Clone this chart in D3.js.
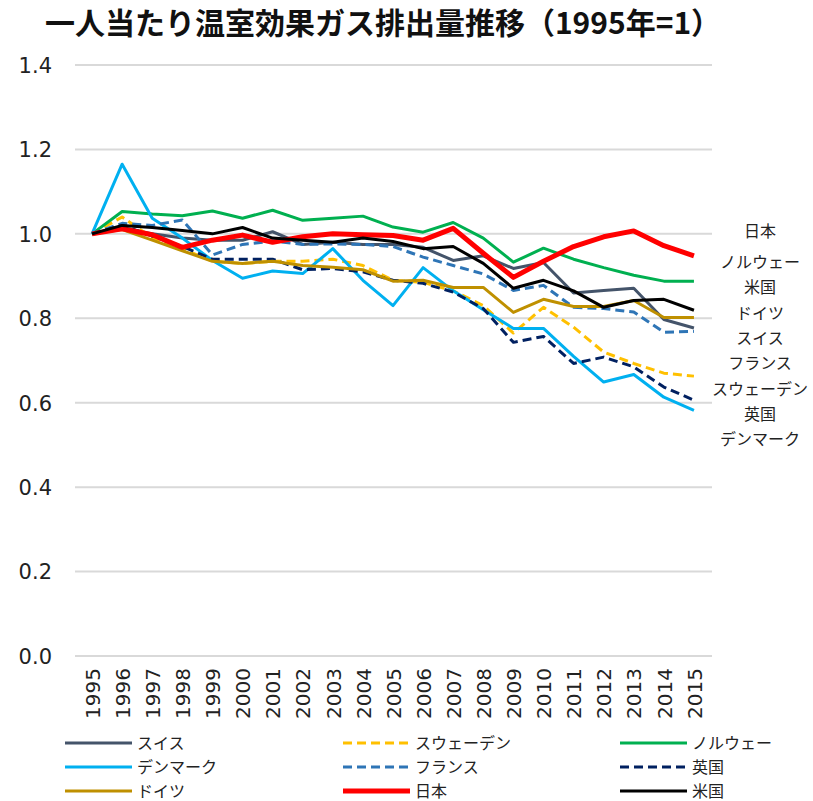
<!DOCTYPE html>
<html><head><meta charset="utf-8">
<script src="https://cdn.jsdelivr.net/npm/d3@7"></script>
<style>html,body{margin:0;padding:0;background:#fff;}</style>
</head><body>
<svg id="chart" width="813" height="801"></svg>
<script>
const title = "一人当たり温室効果ガス排出量推移（1995年=1）";
const years = [1995,1996,1997,1998,1999,2000,2001,2002,2003,2004,2005,2006,2007,2008,2009,2010,2011,2012,2013,2014,2015];
const yTicks = [0,0.2,0.4,0.6,0.8,1.0,1.2,1.4];

const swiss   = [1.0,1.015,1.0,0.99,0.985,0.985,1.005,0.975,0.98,0.975,0.975,0.968,0.937,0.948,0.918,0.932,0.86,0.866,0.871,0.797,0.777];
const sweden  = [1.0,1.04,0.99,0.965,0.935,0.93,0.935,0.935,0.94,0.925,0.89,0.885,0.865,0.83,0.765,0.826,0.779,0.72,0.693,0.67,0.663];
const norway  = [1.0,1.053,1.047,1.043,1.054,1.037,1.056,1.032,1.037,1.042,1.016,1.004,1.027,0.99,0.933,0.966,0.94,0.92,0.902,0.888,0.888];
const denmark = [1.0,1.165,1.037,0.99,0.937,0.895,0.912,0.906,0.965,0.89,0.83,0.92,0.865,0.82,0.776,0.776,0.71,0.649,0.667,0.613,0.582];
const france  = [1.0,1.025,1.02,1.033,0.95,0.975,0.983,0.975,0.976,0.975,0.97,0.945,0.925,0.905,0.866,0.878,0.826,0.823,0.815,0.767,0.769];
const uk      = [1.0,1.02,0.995,0.97,0.94,0.94,0.94,0.915,0.918,0.91,0.89,0.883,0.862,0.823,0.743,0.757,0.693,0.708,0.685,0.637,0.606];
const germany = [1.0,1.01,0.985,0.96,0.935,0.93,0.935,0.925,0.921,0.915,0.888,0.89,0.873,0.873,0.814,0.845,0.828,0.828,0.842,0.802,0.802];
const japan   = [1.0,1.012,0.998,0.968,0.985,0.997,0.98,0.993,1.0,0.998,0.996,0.985,1.013,0.954,0.897,0.935,0.97,0.993,1.007,0.972,0.948];
const us      = [1.0,1.02,1.015,1.008,1.0,1.015,0.99,0.985,0.98,0.99,0.982,0.965,0.97,0.93,0.871,0.89,0.865,0.826,0.842,0.845,0.819];

const seriesNames = ["スイス","スウェーデン","ノルウェー","デンマーク","フランス","英国","ドイツ","日本","米国"];
const seriesValues = [swiss,sweden,norway,denmark,france,uk,germany,japan,us];
const seriesColors = ["#44546A","#FFC000","#00B050","#00B0F0","#2E75B6","#002060","#BF9000","#FF0000","#000000"];
const seriesDashed = [false,true,false,false,true,true,false,false,false];
const seriesWidth  = [3,3,3,3,3,3,3,5,3];

const endLabels = ["日本","ノルウェー","米国","ドイツ","スイス","フランス","スウェーデン","英国","デンマーク"];

const svg = d3.select("#chart");
const jp = "'Noto Sans CJK JP', sans-serif";
const num = "'DejaVu Sans', sans-serif";

svg.append("text").attr("x",383).attr("y",34).attr("text-anchor","middle")
  .attr("font-family",jp).attr("font-weight","bold").attr("font-size",30).attr("fill","#111")
  .text(title);

const x = d3.scalePoint().domain(years).range([77,709]).padding(0.5);
const y = d3.scaleLinear().domain([0,1.4]).range([656,65]);

// gridlines
svg.append("g").selectAll("line").data(yTicks).join("line")
  .attr("x1",75).attr("x2",712).attr("y1",d=>y(d)).attr("y2",d=>y(d))
  .attr("stroke","#d9d9d9").attr("stroke-width",2);

// y axis labels
const yAxis = d3.axisLeft(y).tickValues(yTicks).tickFormat(d3.format(".1f")).tickSize(0).tickPadding(0);
const gy = svg.append("g").attr("transform","translate(52,0)").call(yAxis);
gy.select(".domain").remove();
gy.selectAll("text").attr("font-family",num).attr("font-size",21).attr("fill","#222").attr("dy","0.35em");

// x axis labels
const xAxis = d3.axisBottom(x).tickSize(0).tickPadding(0);
const gx = svg.append("g").attr("transform","translate(0,668)").call(xAxis);
gx.select(".domain").remove();
gx.selectAll("text").attr("font-family",num).attr("font-size",20).attr("fill","#222")
  .attr("text-anchor","end").attr("transform","rotate(-90)").attr("x",0).attr("y",0).attr("dy","0.36em");

// lines
const line = d3.line().x((d,i)=>x(years[i])).y(d=>y(d));
seriesValues.forEach((vals,k)=>{
  svg.append("path").datum(vals).attr("d",line).attr("fill","none")
    .attr("stroke",seriesColors[k]).attr("stroke-width",seriesWidth[k])
    .attr("stroke-linejoin","round")
    .attr("stroke-dasharray",seriesDashed[k]?"9,5":null);
});

// end labels
svg.append("g").selectAll("text").data(endLabels).join("text")
  .attr("x",760).attr("y",(d,i)=> i===0 ? 237 : 268 + (i-1)*25.3)
  .attr("text-anchor","middle").attr("font-family",jp).attr("font-size",16).attr("fill","#222")
  .text(d=>d);

// legend
const legX = [65,343,620], legY = [743,767,791];
seriesNames.forEach((name,k)=>{
  const cx = legX[k%3], cy = legY[Math.floor(k/3)];
  const g = svg.append("g");
  g.append("line").attr("x1",cx).attr("x2",cx+67).attr("y1",cy).attr("y2",cy)
    .attr("stroke",seriesColors[k]).attr("stroke-width",k===7?5:3)
    .attr("stroke-dasharray",seriesDashed[k]?"9,5":null);
  g.append("text").attr("x",cx+72).attr("y",cy).attr("dy","0.35em")
    .attr("font-family",jp).attr("font-size",16).attr("fill","#222").text(name);
});
</script>
</body></html>
